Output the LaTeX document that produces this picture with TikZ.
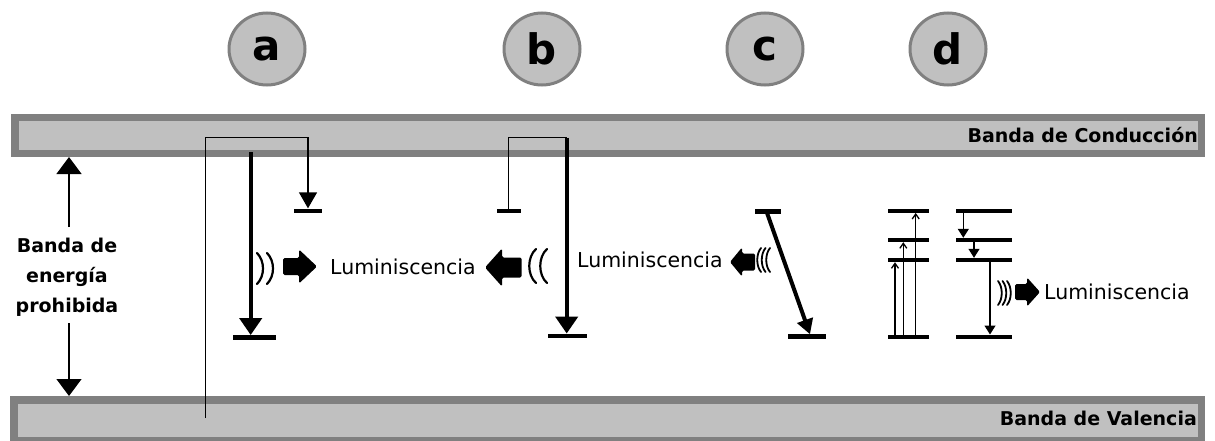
\documentclass[tikz,border=0pt]{standalone}
\usepackage{fontspec}
\setmainfont{DejaVu Sans}
\usetikzlibrary{arrows.meta,shapes.geometric}
\definecolor{bandfill}{RGB}{192,192,192}
\definecolor{bandedge}{RGB}{128,128,128}
\begin{document}
\begin{tikzpicture}[x=1pt,y=-1pt,
  band/.style={draw=bandedge, fill=bandfill, line width=7.5pt},
  tag/.style={ellipse, draw=bandedge, fill=bandfill, line width=3pt, minimum width=76pt, minimum height=72pt, inner sep=0pt, font=\fontsize{42}{42}\selectfont\bfseries},
  lvl/.style={rectangle, fill=black, inner sep=0pt, minimum height=4.5pt},
  dlvl/.style={rectangle, fill=black, inner sep=0pt, minimum height=4pt},
  fine/.style={line width=1.3pt},
  heavy/.style={line width=4.3pt},
  bigtip/.style={-{Triangle[width=25pt,length=17pt]}},
  tiptrap/.style={-{Triangle[width=18pt,length=16pt]}},
  tipthick/.style={-{Triangle[width=22pt,length=17pt]}},
  tipsmall/.style={-{Triangle[width=11pt,length=9pt]}},
  tipopen/.style={-{Straight Barb[width=7pt,length=5pt]}},
  wave/.style={line width=2.2pt, line cap=round},
  blk/.style={fill=black, rounded corners=1.5pt},
  lum/.style={font=\fontsize{20.5}{24}\selectfont, inner sep=0pt},
  bandlabel/.style={font=\fontsize{19}{23}\selectfont\bfseries, inner sep=0pt}
]
\useasboundingbox (0,0) rectangle (1215,441);

% bands
\draw[band] (14.75,117.75) rectangle (1201.25,153.25);
\draw[band] (13.75,399.75) rectangle (1201.25,440.75);
\node[bandlabel, anchor=east] (cb) at (1198,135) {Banda de Conducción};
\node[bandlabel, anchor=east] (vb) at (1197,418) {Banda de Valencia};

% tags
\node[tag] (ta) at (267,49) {a};
\node[tag] (tb) at (542,49) {b};
\node[tag] (tc) at (765,49) {c};
\node[tag] (td) at (948,49) {d};

% forbidden gap label
\node[align=center, font=\fontsize{19}{30}\selectfont\bfseries, inner sep=0pt] (gap) at (67,277) {Banda de\\energía\\prohibida};
\coordinate (gapT) at (69,227);
\coordinate (gapB) at (69,323);
\coordinate (cbEdge) at (69,157);
\coordinate (vbEdge) at (69,396);
\draw[fine, bigtip] (gapT) -- (cbEdge);
\draw[fine, bigtip] (gapB) -- (vbEdge);

% ---- a ----
\node[lvl, minimum width=28pt] (aTrap) at (308,210.8) {};
\node[lvl, minimum width=43.3pt] (aGnd) at (254.3,337.5) {};
\coordinate (aV) at (205.7,418);
\coordinate (aCorner) at (308,137.7);
\draw[fine, tiptrap] (aV) |- (aCorner) -- (aTrap.north);
\coordinate (aS) at (250.7,152);
\draw[heavy, tipthick] (aS) -- (aS |- aGnd.north);
\draw[wave] (257,253) .. controls (265,261) and (265,276) .. (257,284);
\draw[wave] (267,253) .. controls (275,261) and (275,276) .. (267,284);
\fill[blk] (283,258) -- (299,258) -- (299,249.5) -- (317,266.5) -- (299,283.5) -- (299,275) -- (283,275) -- cycle;
\node[lum, anchor=west] (lum1) at (330,266.5) {Luminiscencia};

% ---- b ----
\node[lvl, minimum width=24pt] (bTrap) at (508.7,210.8) {};
\node[lvl, minimum width=38.7pt] (bGnd) at (567.3,336) {};
\coordinate (bCorner) at (566.7,137.7);
\draw[fine] (bTrap.center) |- (bCorner);
\draw[heavy, tipthick] (bCorner) -- (bCorner |- bGnd.north);
\draw[wave] (536,249) .. controls (527,257) and (527,275) .. (536,283);
\draw[wave] (547,249) .. controls (538,257) and (538,275) .. (547,283);
\fill[blk] (521.7,257.5) -- (502,257.5) -- (502,248.5) -- (485,267.5) -- (502,286.5) -- (502,277.5) -- (521.7,277.5) -- cycle;

% ---- c ----
\node[lvl, minimum width=25.7pt] (cTop) at (768,211.7) {};
\node[lvl, minimum width=38pt] (cGnd) at (807,336.5) {};
\coordinate (cS) at (766.7,212);
\coordinate (cE) at (810,334.3);
\draw[line width=4pt, -{Triangle[width=16pt,length=15pt]}] (cS) -- (cE);
\draw[wave, line width=1.8pt] (761,248) .. controls (756,254) and (756,266) .. (761,272);
\draw[wave, line width=1.8pt] (765.5,248) .. controls (760.5,254) and (760.5,266) .. (765.5,272);
\draw[wave, line width=1.8pt] (770,248) .. controls (765,254) and (765,266) .. (770,272);
\fill[blk] (755,253.5) -- (742,253.5) -- (742,247.5) -- (730,262) -- (742,276.5) -- (742,270.5) -- (755,270.5) -- cycle;
\node[lum, anchor=west] (lum2) at (577,260) {Luminiscencia};

% ---- d ----
\node[dlvl, minimum width=41pt] (dL1) at (908.8,210.7) {};
\node[dlvl, minimum width=41pt] (dL2) at (908.8,240) {};
\node[dlvl, minimum width=41pt] (dL3) at (908.8,260) {};
\node[dlvl, minimum width=41pt] (dL4) at (908.8,336.7) {};
\node[dlvl, minimum width=56.3pt] (dR1) at (984.2,210.7) {};
\node[dlvl, minimum width=56.3pt] (dR2) at (984.2,240) {};
\node[dlvl, minimum width=56.3pt] (dR3) at (984.2,260) {};
\node[dlvl, minimum width=56.3pt] (dR4) at (984.2,336.7) {};
\draw[fine, tipopen] (895,334.7) -- (895,0 |- dL3.south);
\draw[fine, tipopen] (903.3,334.7) -- (903.3,0 |- dL2.south);
\draw[fine, tipopen] (915.7,334.7) -- (915.7,0 |- dL1.south);
\draw[fine, tipsmall] (963.3,0 |- dR1.south) -- (963.3,0 |- dR2.north);
\draw[fine, tipsmall] (974,0 |- dR2.south) -- (974,0 |- dR3.north);
\draw[fine, tipsmall] (990,0 |- dR3.south) -- (990,0 |- dR4.north);
\draw[wave, line width=1.8pt] (998,281) .. controls (1003,287) and (1003,299) .. (998,305);
\draw[wave, line width=1.8pt] (1002.5,281) .. controls (1007.5,287) and (1007.5,299) .. (1002.5,305);
\draw[wave, line width=1.8pt] (1007,281) .. controls (1012,287) and (1012,299) .. (1007,305);
\fill[blk] (1015,284) -- (1027,284) -- (1027,277.5) -- (1040,292) -- (1027,306.5) -- (1027,300) -- (1015,300) -- cycle;
\node[lum, anchor=west] (lum3) at (1044,292) {Luminiscencia};
\end{tikzpicture}
\end{document}
